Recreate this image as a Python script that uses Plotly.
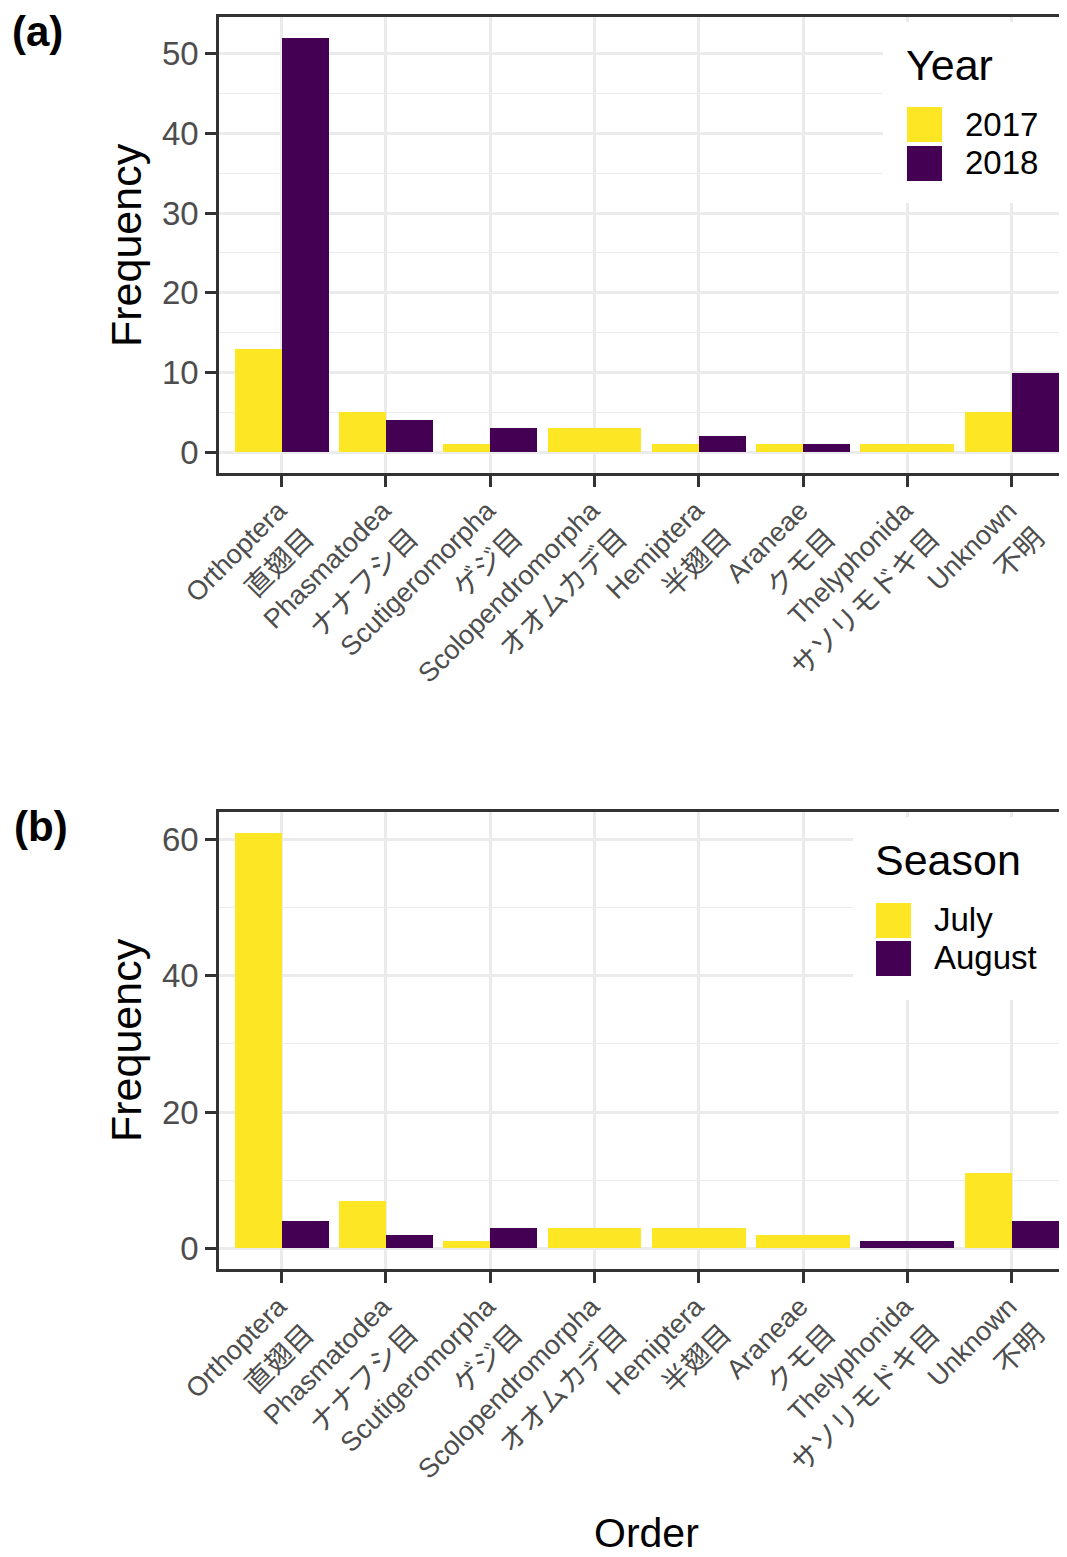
import plotly.graph_objects as go

# ---------------- data ----------------
order_en = ["Orthoptera", "Phasmatodea", "Scutigeromorpha", "Scolopendromorpha",
            "Hemiptera", "Araneae", "Thelyphonida", "Unknown"]
order_ja = ["直翅目", "ナナフシ目", "ゲジ目", "オオムカデ目",
            "半翅目", "クモ目", "サソリモドキ目", "不明"]
year_names = ["2017", "2018"]
year_2017 = [13, 5, 1, 3, 1, 1, 1, 5]
year_2018 = [52, 4, 3, 0, 2, 1, 0, 10]
season_names = ["July", "August"]
season_july = [61, 7, 1, 3, 3, 2, 0, 11]
season_august = [4, 2, 3, 0, 0, 0, 1, 4]

# ---------------- layout helpers (screen pixels -> paper) ----------------
OFF = 8                      # page body margin of the html page
W, H = 1067 - OFF, 1557 - OFF
ML, MR, MT = 219 - OFF, 0, 17 - OFF
MB = H - (1269 - OFF)
PW, PH = W - ML - MR, H - MT - MB


def px(x):
    return (x - OFF - ML) / PW


def py(y):
    return 1 - (y - OFF - MT) / PH


YELLOW = "#FDE725"
PURPLE = "#440154"
GRID = "#EBEBEB"
DARK = "#333333"
TICKC = "#4D4D4D"
FONT = "Liberation Sans, Arial, Noto Sans CJK JP, sans-serif"

x_idx = list(range(len(order_en)))
ticktext = [f"<span style='font-size:27px'>{e}</span><br><span style='font-size:28px'>{j}</span>"
            for e, j in zip(order_en, order_ja)]


def dodge(a, b, total=0.9):
    oa, wa, ob, wb = [], [], [], []
    for va, vb in zip(a, b):
        if va > 0 and vb > 0:
            oa.append(-total / 2); wa.append(total / 2)
            ob.append(0.0); wb.append(total / 2)
        else:
            oa.append(-total / 2); wa.append(total)
            ob.append(-total / 2); wb.append(total)
    return oa, wa, ob, wb


fig = go.Figure()


def add_pair(va, vb, names, xa, ya, leg):
    oa, wa, ob, wb = dodge(va, vb)
    for vals, off, wid, col, nm in [(va, oa, wa, YELLOW, names[0]), (vb, ob, wb, PURPLE, names[1])]:
        fig.add_trace(go.Bar(x=x_idx, y=[v if v > 0 else None for v in vals], offset=off, width=wid,
                             marker=dict(color=col, line=dict(width=0)),
                             name=f"<span style='font-size:33px'>{nm}</span>",
                             hovertemplate=nm + ": %{y}<extra></extra>",
                             xaxis=xa, yaxis=ya, legend=leg))


add_pair(year_2017, year_2018, year_names, "x", "y", "legend")
add_pair(season_july, season_august, season_names, "x2", "y2", "legend2")

xcommon = dict(range=[-0.6, 7.53], tickmode="array", tickvals=x_idx, ticktext=ticktext,
               tickangle=-45, ticks="outside", ticklen=11, tickwidth=2.5, tickcolor=DARK,
               ticklabelstandoff=-6, ticklabelshift=-4,
               showline=True, linecolor=DARK, linewidth=2.5, mirror=True,
               showgrid=True, gridcolor=GRID, gridwidth=2.5, zeroline=False,
               tickfont=dict(size=30, color=TICKC, family=FONT))
ycommon = dict(ticks="outside", ticklen=11, tickwidth=2.5, tickcolor=DARK,
               showline=True, linecolor=DARK, linewidth=2.5, mirror=False,
               showgrid=True, gridcolor=GRID, gridwidth=2.5, zeroline=False,
               tickfont=dict(size=33, color=TICKC, family=FONT))

legcommon = dict(xanchor="left", yanchor="top", bgcolor="rgba(0,0,0,0)", borderwidth=0,
                 itemwidth=66, indentation=-15, tracegroupgap=0, itemclick=False,
                 itemdoubleclick=False, font=dict(size=27, color="black", family=FONT))


def legend_title(t):
    pad = "<span style='font-size:2px'>&nbsp;</span>"
    return dict(text=f"{pad}<br><span style='font-size:43px'>{t}</span><br>{pad}",
                font=dict(size=16.5, color="black", family=FONT))


fig.update_layout(
    width=W, height=H, margin=dict(l=ML, r=MR, t=MT, b=MB),
    paper_bgcolor="white", plot_bgcolor="white",
    barmode="overlay", bargap=0,
    font=dict(family=FONT, color="black"),
    xaxis=dict(anchor="y", domain=[0, 1], **xcommon),
    xaxis2=dict(anchor="y2", domain=[0, 1], **xcommon),
    yaxis=dict(anchor="x", domain=[py(473), 1], range=[-2.6, 54.6], tick0=0, dtick=10,
               minor=dict(tick0=0, dtick=5, showgrid=True, gridcolor=GRID, gridwidth=1.3, ticks=""),
               **ycommon),
    yaxis2=dict(anchor="x2", domain=[0, py(812)], range=[-3.05, 64.05], tick0=0, dtick=20,
                minor=dict(tick0=0, dtick=10, showgrid=True, gridcolor=GRID, gridwidth=1.3, ticks=""),
                **ycommon),
    legend=dict(x=px(904), y=py(37), title=legend_title("Year"), **legcommon),
    legend2=dict(x=px(873), y=py(832), title=legend_title("Season"), **legcommon),
    showlegend=True,
)

# legend backgrounds and enlarged key swatches
shapes = []
for (x0, x1, y0, y1) in [(883, 1067, 22, 203), (853, 1067, 817, 1000)]:
    shapes.append(dict(type="rect", xref="paper", yref="paper", x0=px(x0), x1=px(x1),
                       y0=py(y1), y1=py(y0), fillcolor="white", line=dict(width=0), layer="above"))
for (x0, y0, col) in [(907, 107, YELLOW), (907, 146, PURPLE), (876, 903, YELLOW), (876, 941, PURPLE)]:
    shapes.append(dict(type="rect", xref="paper", yref="paper", x0=px(x0), x1=px(x0 + 35),
                       y0=py(y0 + 35), y1=py(y0), fillcolor=col, line=dict(width=0), layer="above"))
fig.update_layout(shapes=shapes)

ann = [
    dict(text="<b>(a)</b>", x=px(10), y=py(32), xanchor="left", yanchor="middle", font=dict(size=42)),
    dict(text="<b>(b)</b>", x=px(12), y=py(826), xanchor="left", yanchor="middle", font=dict(size=42)),
    dict(text="Frequency", x=px(126), y=py(245), textangle=-90, xanchor="center", yanchor="middle",
         font=dict(size=43)),
    dict(text="Frequency", x=px(126), y=py(1040), textangle=-90, xanchor="center", yanchor="middle",
         font=dict(size=43)),
    dict(text="Order", x=px(646), y=py(1533), xanchor="center", yanchor="middle", font=dict(size=41)),
]
for a in ann:
    a.update(xref="paper", yref="paper", showarrow=False)
    a["font"].update(color="black", family=FONT)
fig.update_layout(annotations=ann)

fig.write_html("out.html")
